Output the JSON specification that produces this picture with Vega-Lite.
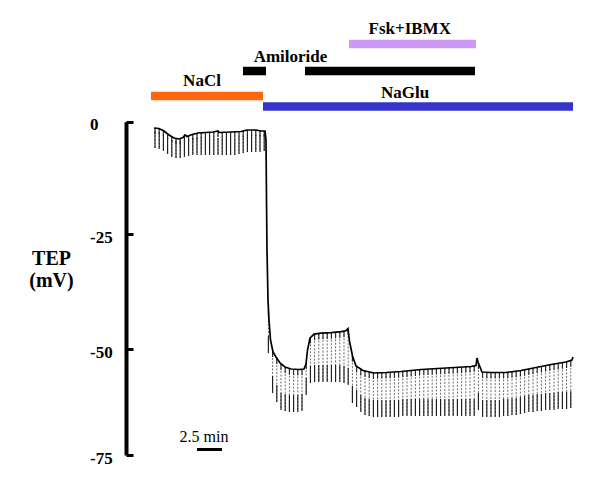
{
  "$schema": "https://vega.github.io/schema/vega-lite/v6.json",
  "width": 465,
  "height": 446,
  "autosize": {"type": "pad"},
  "padding": {"left": 28, "top": 10, "right": 0, "bottom": 0},
  "background": "white",
  "config": {"view": {"stroke": null}, "font": "Liberation Serif"},
  "datasets": {
    "trace": [
      {"t":2.8,"v":-1.4},{"t":3.3,"v":-1.51},{"t":3.8,"v":-2.07},{"t":4.3,"v":-2.96},{"t":4.8,"v":-3.63},{"t":5.3,"v":-3.85},{"t":5.7,"v":-3.52},{"t":5.9,"v":-2.96},{"t":6.1,"v":-3.29},{"t":6.6,"v":-2.85},{"t":7.2,"v":-2.52},{"t":8.0,"v":-2.4},{"t":8.7,"v":-2.29},{"t":9.2,"v":-2.07},{"t":9.3,"v":-2.4},{"t":10.5,"v":-2.29},{"t":11.5,"v":-2.18},{"t":12.1,"v":-1.85},{"t":13.0,"v":-1.85},{"t":13.5,"v":-2.07},{"t":13.9,"v":-2.07},{"t":14.0,"v":-4.07},{"t":14.05,"v":-17.4},{"t":14.1,"v":-28.47},{"t":14.2,"v":-39.31},{"t":14.3,"v":-43.65},{"t":14.45,"v":-47.98},{"t":14.7,"v":-50.64},{"t":15.0,"v":-51.82},{"t":15.4,"v":-53.24},{"t":15.9,"v":-54.19},{"t":16.5,"v":-54.66},{"t":17.3,"v":-54.78},{"t":17.8,"v":-54.66},{"t":18.0,"v":-53.48},{"t":18.15,"v":-50.17},{"t":18.4,"v":-47.59},{"t":18.8,"v":-46.72},{"t":19.5,"v":-46.5},{"t":20.5,"v":-46.4},{"t":21.5,"v":-46.18},{"t":22.0,"v":-45.97},{"t":22.2,"v":-45.53},{"t":22.35,"v":-48.24},{"t":22.65,"v":-51.58},{"t":23.0,"v":-53.95},{"t":23.7,"v":-55.01},{"t":24.8,"v":-55.61},{"t":26.0,"v":-55.49},{"t":27.5,"v":-55.25},{"t":29.5,"v":-54.78},{"t":32.0,"v":-54.42},{"t":34.5,"v":-54.07},{"t":35.0,"v":-53.83},{"t":35.1,"v":-52.06},{"t":35.2,"v":-53.0},{"t":35.6,"v":-55.37},{"t":36.5,"v":-55.49},{"t":38.0,"v":-55.49},{"t":39.5,"v":-55.01},{"t":41.0,"v":-54.3},{"t":42.5,"v":-53.59},{"t":44.0,"v":-53.0},{"t":44.6,"v":-52.53},{"t":44.7,"v":-51.82}
    ],
    "pulses": [
      {"t":2.9,"top":-1.42,"bot":-5.85},{"t":3.32,"top":-1.51,"bot":-6.08},{"t":3.74,"top":-1.96,"bot":-6.52},{"t":4.16,"top":-2.7,"bot":-7.19},{"t":4.58,"top":-3.33,"bot":-7.86},{"t":5.0,"top":-3.74,"bot":-8.08},{"t":5.42,"top":-3.8,"bot":-8.08},{"t":5.84,"top":-3.1,"bot":-7.86},{"t":6.26,"top":-3.2,"bot":-7.64},{"t":6.68,"top":-2.82,"bot":-7.41},
      {"t":7.1,"top":-2.57,"bot":-7.41},{"t":7.52,"top":-2.46,"bot":-7.41},{"t":7.94,"top":-2.4,"bot":-7.41},{"t":8.36,"top":-2.35,"bot":-7.41},{"t":8.78,"top":-2.27,"bot":-7.41},{"t":9.2,"top":-2.07,"bot":-7.41},{"t":9.62,"top":-2.35,"bot":-7.41},{"t":10.04,"top":-2.33,"bot":-7.41},{"t":10.46,"top":-2.29,"bot":-7.41},{"t":10.88,"top":-2.25,"bot":-7.41},
      {"t":11.3,"top":-2.2,"bot":-7.19},{"t":11.72,"top":-2.05,"bot":-6.97},{"t":12.14,"top":-1.85,"bot":-6.75},{"t":12.56,"top":-1.85,"bot":-6.75},{"t":12.98,"top":-1.85,"bot":-6.75},{"t":13.4,"top":-2.0,"bot":-6.75},{"t":13.82,"top":-2.07,"bot":-6.52},{"t":14.24,"top":-41.48,"bot":-50.88},{"t":14.66,"top":-50.4,"bot":-60.33},{"t":15.08,"top":-52.06,"bot":-62.46},
      {"t":15.5,"top":-53.48,"bot":-64.36},{"t":15.92,"top":-54.19,"bot":-64.6},{"t":16.34,"top":-54.59,"bot":-64.83},{"t":16.76,"top":-54.71,"bot":-64.83},{"t":17.18,"top":-54.75,"bot":-64.83},{"t":17.6,"top":-54.71,"bot":-64.6},{"t":18.02,"top":-53.24,"bot":-60.8},{"t":18.44,"top":-47.38,"bot":-57.97},{"t":18.86,"top":-46.72,"bot":-57.73},{"t":19.28,"top":-46.57,"bot":-57.73},
      {"t":19.7,"top":-46.5,"bot":-57.73},{"t":20.12,"top":-46.46,"bot":-57.73},{"t":20.54,"top":-46.4,"bot":-57.73},{"t":20.96,"top":-46.29,"bot":-57.73},{"t":21.38,"top":-46.2,"bot":-57.73},{"t":21.8,"top":-46.07,"bot":-57.97},{"t":22.22,"top":-45.64,"bot":-58.44},{"t":22.64,"top":-51.49,"bot":-62.7},{"t":23.06,"top":-54.07,"bot":-63.65},{"t":23.48,"top":-54.78,"bot":-64.83},
      {"t":23.9,"top":-55.13,"bot":-65.54},{"t":24.32,"top":-55.44,"bot":-65.78},{"t":24.74,"top":-55.61,"bot":-66.01},{"t":25.16,"top":-55.56,"bot":-66.01},{"t":25.58,"top":-55.51,"bot":-66.01},{"t":26.0,"top":-55.49,"bot":-66.01},{"t":26.42,"top":-55.42,"bot":-66.01},{"t":26.84,"top":-55.37,"bot":-66.01},{"t":27.26,"top":-55.3,"bot":-66.01},{"t":27.68,"top":-55.2,"bot":-65.78},
      {"t":28.1,"top":-55.11,"bot":-65.78},{"t":28.52,"top":-55.01,"bot":-65.78},{"t":28.94,"top":-54.9,"bot":-65.78},{"t":29.36,"top":-54.8,"bot":-65.78},{"t":29.78,"top":-54.73,"bot":-65.78},{"t":30.2,"top":-54.68,"bot":-65.78},{"t":30.62,"top":-54.61,"bot":-65.78},{"t":31.04,"top":-54.56,"bot":-65.78},{"t":31.46,"top":-54.49,"bot":-65.78},{"t":31.88,"top":-54.42,"bot":-65.78},
      {"t":32.3,"top":-54.38,"bot":-65.78},{"t":32.72,"top":-54.33,"bot":-65.78},{"t":33.14,"top":-54.26,"bot":-65.78},{"t":33.56,"top":-54.19,"bot":-65.78},{"t":33.98,"top":-54.14,"bot":-65.78},{"t":34.4,"top":-54.07,"bot":-65.78},{"t":34.82,"top":-53.9,"bot":-65.78},{"t":35.24,"top":-53.24,"bot":-64.36},{"t":35.66,"top":-55.37,"bot":-66.01},{"t":36.08,"top":-55.46,"bot":-66.01},
      {"t":36.5,"top":-55.49,"bot":-66.01},{"t":36.92,"top":-55.49,"bot":-66.01},{"t":37.34,"top":-55.49,"bot":-66.01},{"t":37.76,"top":-55.49,"bot":-65.78},{"t":38.18,"top":-55.44,"bot":-65.78},{"t":38.6,"top":-55.32,"bot":-65.54},{"t":39.02,"top":-55.18,"bot":-65.54},{"t":39.44,"top":-55.04,"bot":-65.3},{"t":39.86,"top":-54.85,"bot":-65.07},{"t":40.28,"top":-54.66,"bot":-64.83},
      {"t":40.7,"top":-54.47,"bot":-64.83},{"t":41.12,"top":-54.26,"bot":-64.6},{"t":41.54,"top":-54.04,"bot":-64.6},{"t":41.96,"top":-53.86,"bot":-64.36},{"t":42.38,"top":-53.67,"bot":-64.36},{"t":42.8,"top":-53.48,"bot":-64.36},{"t":43.22,"top":-53.33,"bot":-64.12},{"t":43.64,"top":-53.17,"bot":-64.12},{"t":44.06,"top":-53.0,"bot":-64.12},{"t":44.48,"top":-52.72,"bot":-63.88}
    ],
    "scalebar": [{"t":7.1,"t2":9.6,"v":-73.7,"tm":7.8,"vt":-71.85,"label":"2.5 min"}],
    "treatments": [
      {"name":"NaCl","start":2.5,"end":13.7,"level":1.81},
      {"name":"NaGlu","start":13.7,"end":44.7,"level":0.81},
      {"name":"Amiloride","start":11.7,"end":14.0,"level":4.19},
      {"name":"Amiloride","start":17.9,"end":34.9,"level":4.19},
      {"name":"Fsk+IBMX","start":22.3,"end":35.0,"level":6.76}
    ],
    "labels": [
      {"label":"NaCl","t":7.6,"level":2.79},
      {"label":"NaGlu","t":27.9,"level":1.65},
      {"label":"Amiloride","t":16.45,"level":5.08},
      {"label":"Fsk+IBMX","t":28.37,"level":7.69}
    ]
  },
  "layer": [
    {
      "layer": [
        {
          "data": {"name": "pulses"},
          "mark": {"type": "rule", "stroke": "#6e6e6e", "strokeWidth": 1, "strokeDash": [2, 1.5]},
          "encoding": {
            "x": {"field": "t", "type": "quantitative", "scale": {"domain": [0, 46.5], "nice": false, "zero": false}, "axis": null},
            "y": {
              "field": "top", "type": "quantitative",
              "scale": {"domain": [-75, -50, -25, 0], "range": [445, 339.3, 224, 111.7], "nice": false, "zero": false},
              "axis": {
                "values": [0, -25, -50, -75], "grid": false,
                "labelExpr": "'' + datum.value",
                "labelFlush": false, "labelOverlap": false,
                "domainColor": "black", "domainWidth": 4,
                "tickColor": "black", "tickWidth": 3, "tickSize": -7,
                "labelFont": "Liberation Serif", "labelFontWeight": "bold", "labelFontSize": 17, "labelColor": "black",
                "labelAlign": "left", "labelBaseline": "middle", "labelOffset": 3, "labelPadding": 43.5,
                "title": ["TEP", "(mV)"],
                "titleFont": "Liberation Serif", "titleFontWeight": "bold", "titleFontSize": 20, "titleColor": "black",
                "titleAngle": 0, "titleAlign": "center", "titleBaseline": "alphabetic",
                "titleX": -75, "titleY": 254, "titleLineHeight": 22
              }
            },
            "y2": {"field": "bot"}
          }
        },
        {
          "data": {"name": "pulses"},
          "mark": {"type": "rule", "stroke": "#1a1a1a", "strokeWidth": 1.1, "y2Offset": -17},
          "encoding": {
            "x": {"field": "t", "type": "quantitative"},
            "y": {"field": "bot", "type": "quantitative"},
            "y2": {"field": "bot"}
          }
        },
        {
          "data": {"name": "pulses"},
          "mark": {"type": "rule", "stroke": "#222", "strokeWidth": 1.1, "y2Offset": 6},
          "encoding": {
            "x": {"field": "t", "type": "quantitative"},
            "y": {"field": "top", "type": "quantitative"},
            "y2": {"field": "top"}
          }
        },
        {
          "data": {"name": "trace"},
          "mark": {"type": "line", "stroke": "black", "strokeWidth": 1.7},
          "encoding": {
            "x": {"field": "t", "type": "quantitative"},
            "y": {"field": "v", "type": "quantitative"}
          }
        },
        {
          "data": {"name": "scalebar"},
          "mark": {"type": "rule", "stroke": "black", "strokeWidth": 3},
          "encoding": {
            "x": {"field": "t", "type": "quantitative"},
            "x2": {"field": "t2"},
            "y": {"field": "v", "type": "quantitative"}
          }
        },
        {
          "data": {"name": "scalebar"},
          "mark": {"type": "text", "font": "Liberation Serif", "fontSize": 16, "color": "black", "align": "center", "baseline": "alphabetic"},
          "encoding": {
            "x": {"field": "tm", "type": "quantitative"},
            "y": {"field": "vt", "type": "quantitative"},
            "text": {"field": "label"}
          }
        }
      ]
    },
    {
      "layer": [
        {
          "data": {"name": "treatments"},
          "mark": {"type": "rule", "strokeWidth": 8.5},
          "encoding": {
            "x": {"field": "start", "type": "quantitative", "scale": {"domain": [0, 46.5], "nice": false, "zero": false}, "axis": null},
            "x2": {"field": "end"},
            "y": {"field": "level", "type": "quantitative", "scale": {"domain": [0, 10], "range": [105, 0], "nice": false}, "axis": null},
            "color": {
              "field": "name", "type": "nominal",
              "scale": {"domain": ["NaCl", "NaGlu", "Amiloride", "Fsk+IBMX"], "range": ["#FF6610", "#3434C8", "#000000", "#CC99F5"]},
              "legend": null
            }
          }
        },
        {
          "data": {"name": "labels"},
          "mark": {"type": "text", "font": "Liberation Serif", "fontWeight": "bold", "fontSize": 17, "color": "black", "align": "center", "baseline": "alphabetic"},
          "encoding": {
            "x": {"field": "t", "type": "quantitative"},
            "y": {"field": "level", "type": "quantitative"},
            "text": {"field": "label"}
          }
        }
      ]
    }
  ],
  "resolve": {"scale": {"y": "independent"}}
}
